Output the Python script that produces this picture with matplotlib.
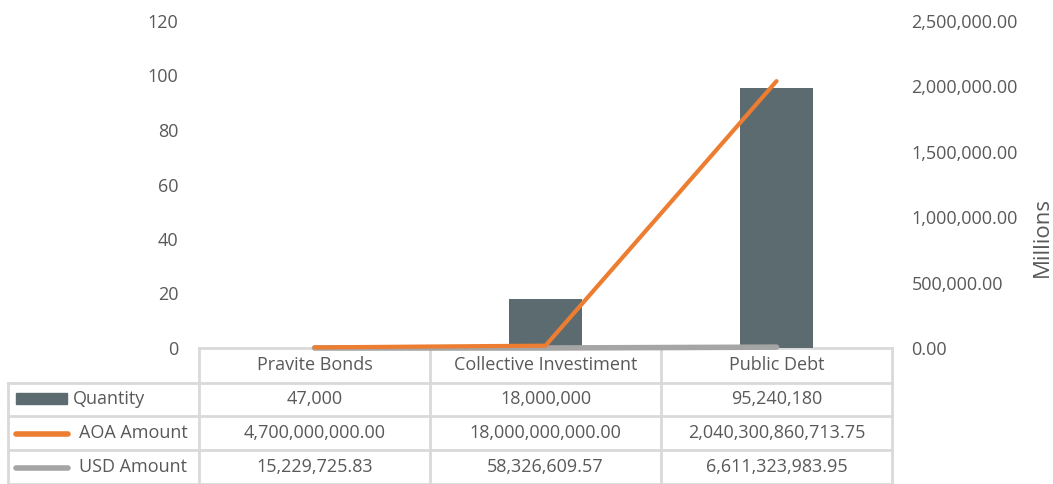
import matplotlib.pyplot as plt
import matplotlib.transforms as mtransforms
from matplotlib.ticker import FuncFormatter

plt.rcParams['font.family'] = ['Open Sans', 'DejaVu Sans']

categories = ['Pravite Bonds', 'Collective Investiment', 'Public Debt']
quantity = [47000, 18000000, 95240180]
aoa_amount = [4700000000.00, 18000000000.00, 2040300860713.75]
usd_amount = [15229725.83, 58326609.57, 6611323983.95]

quantity_txt = ['47,000', '18,000,000', '95,240,180']
aoa_txt = ['4,700,000,000.00', '18,000,000,000.00', '2,040,300,860,713.75']
usd_txt = ['15,229,725.83', '58,326,609.57', '6,611,323,983.95']

BAR = '#5B6B70'
ORANGE = '#ED7D31'
GRAY = '#A5A5A5'
TXT = '#595959'
GRID = '#D9D9D9'
FS = 13

W, H = 1053, 484
fig = plt.figure(figsize=(W / 100, H / 100), dpi=100)
ax = fig.add_axes([199 / W, (H - 348) / H, (892 - 199) / W, (348 - 21) / H])
ax.patch.set_visible(False)
ax2 = ax.twinx()

x = range(len(categories))
ax.bar(x, [q / 1e6 for q in quantity], width=0.32, color=BAR, zorder=2)
ax.set_ylim(0, 120)
ax.set_yticks(range(0, 121, 20))
ax.set_xlim(-0.5, 2.5)
ax.set_xticks([])

ax2.plot(x, [v / 1e6 for v in usd_amount], color=GRAY, lw=4, solid_capstyle='round',
         zorder=3, clip_on=False)
ax2.plot(x, [v / 1e6 for v in aoa_amount], color=ORANGE, lw=3, solid_capstyle='round',
         zorder=4, clip_on=False)
ax2.set_ylim(0, 2500000)
ax2.set_yticks(range(0, 2500001, 500000))
ax2.yaxis.set_major_formatter(FuncFormatter(lambda v, p: '{:,.2f}'.format(v)))

for a in (ax, ax2):
    for s in a.spines.values():
        s.set_visible(False)
    a.tick_params(length=0, labelsize=FS, labelcolor=TXT)
ax.tick_params(axis='y', pad=15)
ax2.tick_params(axis='y', pad=14)

fig.text(1042 / W, 1 - 237 / H, 'Millions', rotation=90, ha='center', va='center',
         fontsize=16, color=TXT)

# data table under the plot: x in data units, y in figure pixels
ytrans = mtransforms.blended_transform_factory(ax.transData, mtransforms.IdentityTransform())
figpx = mtransforms.IdentityTransform()

def fy(y):
    return H - y

rows_y = [348, 383, 416, 450, 484]
col_x = [-0.5, 0.5, 1.5, 2.5]
lkw = dict(color=GRID, lw=2, clip_on=False, zorder=-1)

# horizontal borders
fig.add_artist(plt.Line2D([199, 892], [fy(348), fy(348)], transform=figpx, **lkw))
for y in rows_y[1:]:
    fig.add_artist(plt.Line2D([8, 892], [fy(y), fy(y)], transform=figpx, **lkw))
# vertical borders
for xc in col_x:
    fig.add_artist(plt.Line2D([xc, xc], [fy(348), fy(484)], transform=ytrans, **lkw))
fig.add_artist(plt.Line2D([8, 8], [fy(383), fy(484)], transform=figpx, **lkw))

tkw = dict(ha='center', va='center', fontsize=FS, color=TXT)
for i, name in enumerate(categories):
    fig.text(i, fy(365), name, transform=ytrans, **tkw)
for vals, yc in [(quantity_txt, 399), (aoa_txt, 433), (usd_txt, 467)]:
    for i, t in enumerate(vals):
        fig.text(i, fy(yc), t, transform=ytrans, **tkw)

# legend keys in the first column
fig.add_artist(plt.Rectangle((16, fy(404)), 51, 11, transform=figpx, color=BAR))
fig.add_artist(plt.Line2D([16, 68], [fy(434), fy(434)], transform=figpx, color=ORANGE,
                          lw=4, solid_capstyle='round'))
fig.add_artist(plt.Line2D([16, 68], [fy(468), fy(468)], transform=figpx, color=GRAY,
                          lw=4, solid_capstyle='round'))
fig.text(73, fy(399), 'Quantity', transform=figpx, ha='left', va='center', fontsize=FS, color=TXT)
fig.text(79, fy(433), 'AOA Amount', transform=figpx, ha='left', va='center', fontsize=FS, color=TXT)
fig.text(79, fy(467), 'USD Amount', transform=figpx, ha='left', va='center', fontsize=FS, color=TXT)

fig.savefig('out.png', dpi=100)
